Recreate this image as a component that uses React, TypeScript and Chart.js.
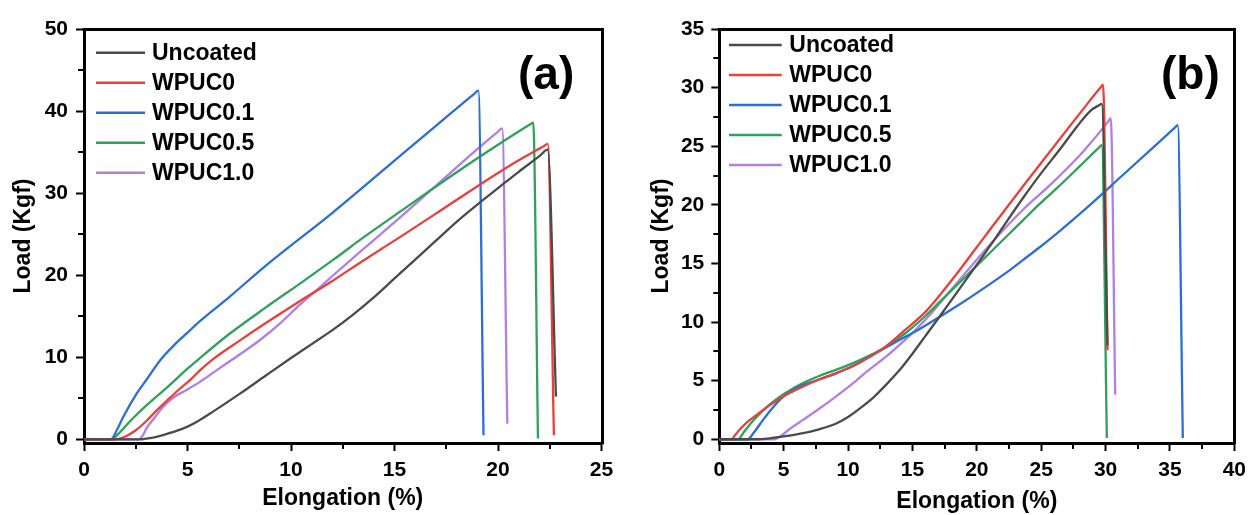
import React, { useEffect, useRef } from "react";
import { Chart, registerables } from "chart.js";

Chart.register(...registerables);

// ---------- shared ----------
const seriesNames = ["Uncoated", "WPUC0", "WPUC0.1", "WPUC0.5", "WPUC1.0"];
const seriesColors = ["#4b4b4b", "#e8413c", "#2b6fd6", "#30a05c", "#b27ee6"];

// ---------- panel (a) : Elongation (%) vs Load (Kgf) ----------
const aUncoated = [
  [0, 0], [2.7, 0], [3.0, 0.08], [3.5, 0.3], [4.0, 0.65], [4.5, 1.05], [5.0, 1.55],
  [5.5, 2.2], [6.25, 3.4], [7.5, 5.5], [8.8, 7.8], [10, 9.9], [11, 11.6], [12, 13.3],
  [13, 15.2], [14, 17.3], [15, 19.6], [16, 21.9], [17, 24.2], [18, 26.5], [19, 28.6],
  [20, 30.6], [21, 32.6], [22, 34.5], [22.4, 35.3], [22.8, 5.2],
];
const aWPUC0 = [
  [0, 0], [1.5, 0], [2.0, 0.35], [2.5, 1.1], [3.0, 2.2], [3.5, 3.5], [4.0, 4.7], [4.6, 6.1],
  [5.2, 7.4], [5.6, 8.4], [6.25, 9.8], [7.5, 12.0], [8.8, 14.2], [10.4, 16.8], [12, 19.3],
  [13.5, 21.8], [15.3, 24.7], [17, 27.5], [19.1, 31.0], [21, 34.0], [22.2, 35.7],
  [22.4, 36.0], [22.7, 0.5],
];
const aWPUC01 = [
  [0, 0], [1.3, 0], [1.6, 1.2], [1.9, 2.75], [2.55, 5.6], [3.0, 7.2], [3.7, 9.7], [4.4, 11.6],
  [5.0, 13.0], [5.6, 14.4], [7, 17.3], [8.8, 21.2], [12, 27.6], [15.3, 34.6], [17, 38.2],
  [18.85, 42.1], [19.05, 42.5], [19.3, 0.5],
];
const aWPUC05 = [
  [0, 0], [1.35, 0], [1.6, 0.5], [2.0, 1.6], [2.5, 2.9], [3.0, 4.1], [3.5, 5.2], [4.0, 6.3],
  [5.0, 8.6], [5.6, 9.9], [7, 12.8], [8.8, 16.1], [10.5, 19.1], [12, 21.8], [13.5, 24.6],
  [15.3, 27.8], [17, 30.8], [18.5, 33.4], [20, 35.9], [21.5, 38.3], [21.7, 38.6],
  [21.93, 0.1],
];
const aWPUC10 = [
  [0, 0], [2.65, 0], [2.85, 0.5], [3.03, 1.4], [3.4, 2.6], [3.7, 3.6], [4.0, 4.4],
  [4.32, 5.1], [4.8, 5.8], [5.6, 7.0], [6.57, 8.7], [7.5, 10.3], [8.5, 12.1], [9.5, 14.2],
  [10.43, 16.4], [11.2, 18.1], [12, 19.9], [13.5, 23.2], [15.3, 27.1], [17, 30.9],
  [18.97, 35.3], [20.0, 37.5], [20.2, 37.9], [20.45, 1.9],
];
const aXTicks = [0, 5, 10, 15, 20, 25];
const aXMinor = [2.5, 7.5, 12.5, 17.5, 22.5];
const aYTicks = [0, 10, 20, 30, 40, 50];
const aYMinor = [5, 15, 25, 35, 45];

// ---------- panel (b) ----------
const bUncoated = [
  [0, 0], [3, 0], [4.7, 0.2], [6.2, 0.45], [7.75, 0.85], [9, 1.3], [10, 1.9], [11, 2.7],
  [12, 3.6], [13, 4.7], [14, 5.9], [15, 7.3], [16, 8.8], [17, 10.3], [18.5, 12.6], [20, 14.9],
  [21.1, 16.6], [22.4, 18.7], [23.6, 20.6], [25, 22.7], [26.5, 24.8], [27.8, 26.7],
  [28.8, 28.0], [29.5, 28.5], [29.7, 28.6], [30.15, 8.0],
];
const bWPUC0 = [
  [0, 0], [0.9, 0], [1.4, 0.6], [2.1, 1.4], [2.8, 2.0], [3.4, 2.5], [4.2, 3.1], [5.2, 3.8],
  [6.5, 4.5], [7.75, 5.1], [9, 5.6], [10.3, 6.2], [11.5, 6.9], [12.9, 7.9], [14.4, 9.3],
  [15.95, 10.8], [17.2, 12.4], [18.5, 14.2], [19.8, 16.1], [21.1, 18.0], [23.6, 21.6],
  [26, 25.0], [28, 27.8], [29.6, 30.0], [29.8, 30.25], [30.15, 7.6],
];
const bWPUC01 = [
  [0, 0], [2.2, 0], [2.7, 0.6], [3.4, 1.65], [4.0, 2.5], [4.7, 3.35], [5.4, 4.0], [6.2, 4.5],
  [7.75, 5.1], [9, 5.6], [10.3, 6.2], [11.6, 7.0], [12.9, 7.8], [14.2, 8.6], [15.4, 9.3],
  [17.2, 10.5], [19, 11.75], [21.1, 13.3], [22.4, 14.3], [23.6, 15.3], [24.9, 16.4],
  [26.2, 17.55], [28.8, 20.0], [31.3, 22.5], [33.9, 25.1], [35.4, 26.6], [35.6, 26.8],
  [36.0, 0.1],
];
const bWPUC05 = [
  [0, 0], [1.45, 0], [1.9, 0.6], [2.6, 1.55], [3.2, 2.25], [3.9, 2.95], [4.6, 3.55],
  [5.2, 4.0], [6.5, 4.8], [7.75, 5.4], [9, 5.9], [10.3, 6.45], [11.5, 7.05], [12.9, 7.85],
  [14.4, 9.0], [15.95, 10.45], [17.2, 11.8], [18.5, 13.2], [19.8, 14.6], [21.1, 16.0],
  [22.4, 17.4], [23.6, 18.7], [24.9, 20.1], [26.2, 21.4], [28, 23.3], [29.5, 24.9],
  [29.7, 25.1], [30.1, 0.1],
];
const bWPUC10 = [
  [0, 0], [4.3, 0], [4.7, 0.2], [5.5, 0.9], [6.5, 1.65], [7.75, 2.6], [9, 3.6], [10.3, 4.7],
  [11.6, 5.9], [12.9, 7.0], [14.15, 8.2], [15.4, 9.5], [16.5, 10.8], [18.5, 13.4],
  [21.1, 16.7], [23.6, 19.6], [25.7, 21.7], [27, 23.1], [28.3, 24.6], [30.2, 27.1],
  [30.4, 27.4], [30.75, 3.8],
];
const bXTicks = [0, 5, 10, 15, 20, 25, 30, 35, 40];
const bXMinor = [2.5, 7.5, 12.5, 17.5, 22.5, 27.5, 32.5, 37.5];
const bYTicks = [0, 5, 10, 15, 20, 25, 30, 35];
const bYMinor = [2.5, 7.5, 12.5, 17.5, 22.5, 27.5, 32.5];

const FONT = '"Liberation Sans", Arial, Helvetica, sans-serif';

const decorPlugin = {
  id: "decor",
  afterDraw(chart: any, _args: any, opts: any) {
    const { ctx, chartArea: ca, scales } = chart;
    const xs = scales.x;
    const ys = scales.y;
    ctx.save();
    // frame top & right
    ctx.strokeStyle = "#000";
    ctx.lineWidth = 3;
    ctx.lineCap = "square";
    ctx.beginPath();
    ctx.moveTo(ca.left, Math.round(ca.top) + 0.5);
    ctx.lineTo(Math.round(ca.right) + 0.5, Math.round(ca.top) + 0.5);
    ctx.lineTo(Math.round(ca.right) + 0.5, ca.bottom);
    ctx.stroke();
    // minor ticks
    ctx.lineCap = "butt";
    ctx.lineWidth = 2;
    ctx.beginPath();
    for (const v of opts.xMinor) {
      const px = Math.round(xs.getPixelForValue(v));
      ctx.moveTo(px, ca.bottom);
      ctx.lineTo(px, ca.bottom + 6);
    }
    for (const v of opts.yMinor) {
      const py = Math.round(ys.getPixelForValue(v));
      ctx.moveTo(ca.left, py);
      ctx.lineTo(ca.left - 6, py);
    }
    ctx.stroke();
    // legend
    const lg = opts.legend;
    ctx.font = `bold ${lg.size}px ${FONT}`;
    ctx.textBaseline = "middle";
    ctx.textAlign = "left";
    chart.data.datasets.forEach((ds: any, i: number) => {
      const y = lg.y0 + i * lg.dy;
      ctx.strokeStyle = ds.borderColor;
      ctx.lineWidth = 2.5;
      ctx.beginPath();
      ctx.moveTo(lg.x0, y);
      ctx.lineTo(lg.x1, y);
      ctx.stroke();
      ctx.fillStyle = "#000";
      ctx.fillText(ds.label, lg.tx, y + 1);
    });
    // panel label
    const p = opts.panel;
    ctx.font = `bold ${p.size}px ${FONT}`;
    ctx.textBaseline = "alphabetic";
    ctx.fillStyle = "#000";
    ctx.fillText(p.text, p.x, p.y);
    ctx.restore();
  },
};

function makeConfig(p: any) {
  const tickFont = { family: FONT, size: 21, weight: "bold" as const };
  const titleFont = { family: FONT, size: 23, weight: "bold" as const, lineHeight: 1.2 };
  return {
    type: "line" as const,
    data: {
      datasets: p.series.map((pts: number[][], i: number) => ({
        label: seriesNames[i],
        data: pts.map(([x, y]) => ({ x, y })),
        borderColor: seriesColors[i],
        backgroundColor: seriesColors[i],
        borderWidth: 2.3,
        pointRadius: 0,
        cubicInterpolationMode: "monotone" as const,
        fill: false,
      })),
    },
    options: {
      responsive: false,
      animation: false as const,
      events: [],
      layout: { padding: p.padding },
      plugins: {
        legend: { display: false },
        tooltip: { enabled: false },
        decor: {
          xMinor: p.xMinor,
          yMinor: p.yMinor,
          legend: p.legend,
          panel: p.panel,
        },
      },
      scales: {
        x: {
          type: "linear" as const,
          min: p.xMin,
          max: p.xMax,
          afterBuildTicks: (s: any) => {
            s.ticks = p.xTicks.map((v: number) => ({ value: v }));
          },
          afterFit: (s: any) => {
            s.height = p.xH;
          },
          ticks: {
            font: tickFont,
            color: "#000",
            padding: 7,
            maxRotation: 0,
            autoSkip: false,
            callback: (v: any) => String(v),
          },
          grid: {
            drawOnChartArea: false,
            drawTicks: true,
            tickLength: 8,
            tickWidth: 2,
            tickColor: "#000",
          },
          border: { display: true, color: "#000", width: 3 },
          title: {
            display: true,
            text: "Elongation (%)",
            color: "#000",
            font: titleFont,
            padding: { top: 0, bottom: p.xTitlePad },
          },
        },
        y: {
          type: "linear" as const,
          min: p.yMin,
          max: p.yMax,
          afterBuildTicks: (s: any) => {
            s.ticks = p.yTicks.map((v: number) => ({ value: v }));
          },
          afterFit: (s: any) => {
            s.width = p.yW;
          },
          ticks: {
            font: tickFont,
            color: "#000",
            padding: p.yTickPad,
            autoSkip: false,
            callback: (v: any) => String(v),
          },
          grid: {
            drawOnChartArea: false,
            drawTicks: true,
            tickLength: 8,
            tickWidth: 2,
            tickColor: "#000",
          },
          border: { display: true, color: "#000", width: 3 },
          title: {
            display: true,
            text: "Load (Kgf)",
            color: "#000",
            font: titleFont,
            padding: { top: 10, bottom: 0 },
          },
        },
      },
    },
    plugins: [decorPlugin],
  };
}

const panelA = {
  series: [aUncoated, aWPUC0, aWPUC01, aWPUC05, aWPUC10],
  xMin: 0, xMax: 25, yMin: -0.45, yMax: 50,
  xTicks: aXTicks, xMinor: aXMinor, yTicks: aYTicks, yMinor: aYMinor,
  padding: { left: 0, top: 29, right: 24.5, bottom: 0 },
  yW: 84, xH: 72, xTitlePad: 3, yTickPad: 8,
  legend: { x0: 96, x1: 145, tx: 152, y0: 52.7, dy: 30, size: 23 },
  panel: { text: "(a)", x: 518, y: 89, size: 46 },
};

const panelB = {
  series: [bUncoated, bWPUC0, bWPUC01, bWPUC05, bWPUC10],
  xMin: 0, xMax: 40, yMin: -0.32, yMax: 35,
  xTicks: bXTicks, xMinor: bXMinor, yTicks: bYTicks, yMinor: bYMinor,
  padding: { left: 12, top: 29, right: 15, bottom: 0 },
  yW: 81.3, xH: 72, xTitlePad: 0, yTickPad: 7,
  legend: { x0: 103, x1: 155.7, tx: 163.3, y0: 45, dy: 30, size: 23 },
  panel: { text: "(b)", x: 535, y: 89, size: 46 },
};

function ChartCanvas({ cfg, left, width }: { cfg: any; left: number; width: number }) {
  const ref = useRef<HTMLCanvasElement | null>(null);
  useEffect(() => {
    if (!ref.current) return;
    const chart = new Chart(ref.current, makeConfig(cfg) as any);
    return () => chart.destroy();
  }, [cfg]);
  return (
    <canvas
      ref={ref}
      width={width}
      height={515}
      style={{ position: "absolute", left, top: 0, width, height: 515 }}
    />
  );
}

export default function App() {
  return (
    <div style={{ position: "absolute", left: 0, top: 0, width: 1253, height: 515, background: "#fff" }}>
      <ChartCanvas cfg={panelA} left={0} width={626} />
      <ChartCanvas cfg={panelB} left={626} width={627} />
    </div>
  );
}
